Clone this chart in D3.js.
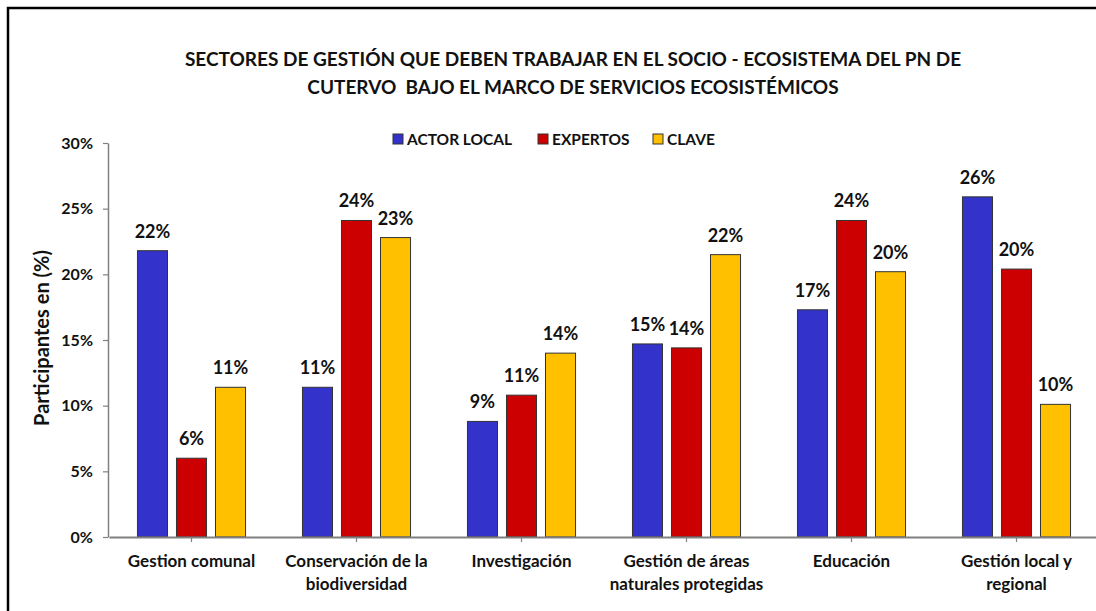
<!DOCTYPE html>
<html>
<head>
<meta charset="utf-8">
<script src="https://cdn.jsdelivr.net/npm/d3@7"></script>
<style>
  html, body { margin: 0; padding: 0; background: #fff; }
  svg { display: block; font-family: Lato, "Open Sans", sans-serif; }
</style>
</head>
<body>
<svg id="chart" width="1096" height="611"></svg>
<script>
const titleLines = [
  "SECTORES DE GESTIÓN QUE DEBEN TRABAJAR EN EL SOCIO - ECOSISTEMA DEL PN DE",
  "CUTERVO  BAJO EL MARCO DE SERVICIOS ECOSISTÉMICOS"
];
const categories = [
  ["Gestion comunal"],
  ["Conservación de la", "biodiversidad"],
  ["Investigación"],
  ["Gestión de áreas", "naturales protegidas"],
  ["Educación"],
  ["Gestión local y", "regional"]
];
const seriesNames = ["ACTOR LOCAL", "EXPERTOS", "CLAVE"];
const seriesColors = ["#3333CC", "#CC0000", "#FFC000"];
const actorLocal = [0.218, 0.114, 0.088, 0.147, 0.173, 0.259];
const expertos   = [0.060, 0.241, 0.108, 0.144, 0.241, 0.204];
const clave      = [0.114, 0.228, 0.140, 0.215, 0.202, 0.101];
const yTicks = [0, 0.05, 0.10, 0.15, 0.20, 0.25, 0.30];
const yLabel = "Participantes en (%)";

const seriesValues = [actorLocal, expertos, clave];
const svg = d3.select("#chart");

// frame
svg.append("rect").attr("x", 8).attr("y", 8).attr("width", 1200).attr("height", 700)
  .attr("fill", "#fff").attr("stroke", "#000").attr("stroke-width", 2.5);

// title
svg.append("g").selectAll("text").data(titleLines).join("text")
  .attr("x", 573).attr("y", (d, i) => 66 + i * 28)
  .attr("text-anchor", "middle").style("white-space", "pre")
  .attr("font-size", 19).attr("font-weight", 700).attr("fill", "#111")
  .text(d => d);

const catKeys = categories.map(c => c.join(" "));
const x0 = d3.scaleBand().domain(catKeys).range([109, 1099]).paddingInner(0.345).paddingOuter(0.1725);
const x1 = d3.scaleBand().domain(seriesNames).range([0, x0.bandwidth()]).paddingInner(0.23);
const y = d3.scaleLinear().domain([0, 0.30]).range([537, 143]);

// y axis
const yAxis = svg.append("g").attr("transform", "translate(108,0)")
  .call(d3.axisLeft(y).tickValues(yTicks).tickFormat(d3.format(".0%")).tickSize(5).tickSizeOuter(0));
yAxis.select(".domain").attr("stroke", "#808080").attr("stroke-width", 1.5);
yAxis.selectAll(".tick line").attr("stroke", "#808080").attr("stroke-width", 1.2);
yAxis.selectAll(".tick text").attr("font-size", 16).attr("font-weight", 700)
  .attr("fill", "#111").attr("font-family", "Lato").attr("x", -15);

// y label
svg.append("text")
  .attr("transform", "translate(49,338) rotate(-90)")
  .attr("text-anchor", "middle").attr("font-size", 20).attr("font-weight", 700).attr("fill", "#111")
  .text(yLabel);

// bars
const groups = svg.append("g").selectAll("g").data(catKeys).join("g")
  .attr("transform", d => `translate(${x0(d)},0)`);
groups.each(function(cat, ci) {
  const g = d3.select(this);
  const data = seriesNames.map((s, si) => ({ s, si, v: seriesValues[si][ci] }));
  g.selectAll("rect").data(data).join("rect")
    .attr("x", d => x1(d.s)).attr("width", x1.bandwidth())
    .attr("y", d => y(d.v)).attr("height", d => y(0) - y(d.v))
    .attr("fill", d => seriesColors[d.si]).attr("stroke", "#333").attr("stroke-width", 1);
  g.selectAll("text").data(data).join("text")
    .attr("x", d => x1(d.s) + x1.bandwidth() / 2).attr("y", d => y(d.v) - 13)
    .attr("text-anchor", "middle").attr("font-size", 18).attr("font-weight", 700).attr("fill", "#111")
    .text(d => d3.format(".0%")(d.v));
});

// x axis
const xAxis = svg.append("g").attr("transform", "translate(0,537)")
  .call(d3.axisBottom(x0).tickSize(5).tickSizeOuter(0).tickFormat(""));
xAxis.select(".domain").attr("stroke", "#808080").attr("stroke-width", 2);
xAxis.selectAll(".tick line").attr("stroke", "#808080").attr("stroke-width", 1.2);
xAxis.selectAll(".tick").each(function(d, i) {
  const t = d3.select(this).append("text").attr("text-anchor", "middle")
    .attr("font-size", 17).attr("font-weight", 700).attr("fill", "#111").attr("font-family", "Lato");
  categories[i].forEach((line, li) => {
    t.append("tspan").attr("x", 0).attr("y", 30 + li * 23).text(line);
  });
});

// legend
const legendX = [393, 538, 653];
const leg = svg.append("g").selectAll("g").data(seriesNames).join("g")
  .attr("transform", (d, i) => `translate(${legendX[i]},134)`);
leg.append("rect").attr("width", 10).attr("height", 10)
  .attr("fill", (d, i) => seriesColors[i]).attr("stroke", "#333").attr("stroke-width", 1);
leg.append("text").attr("x", 14).attr("y", 10.5)
  .attr("font-size", 15.5).attr("font-weight", 700).attr("fill", "#111").text(d => d);
</script>
</body>
</html>
